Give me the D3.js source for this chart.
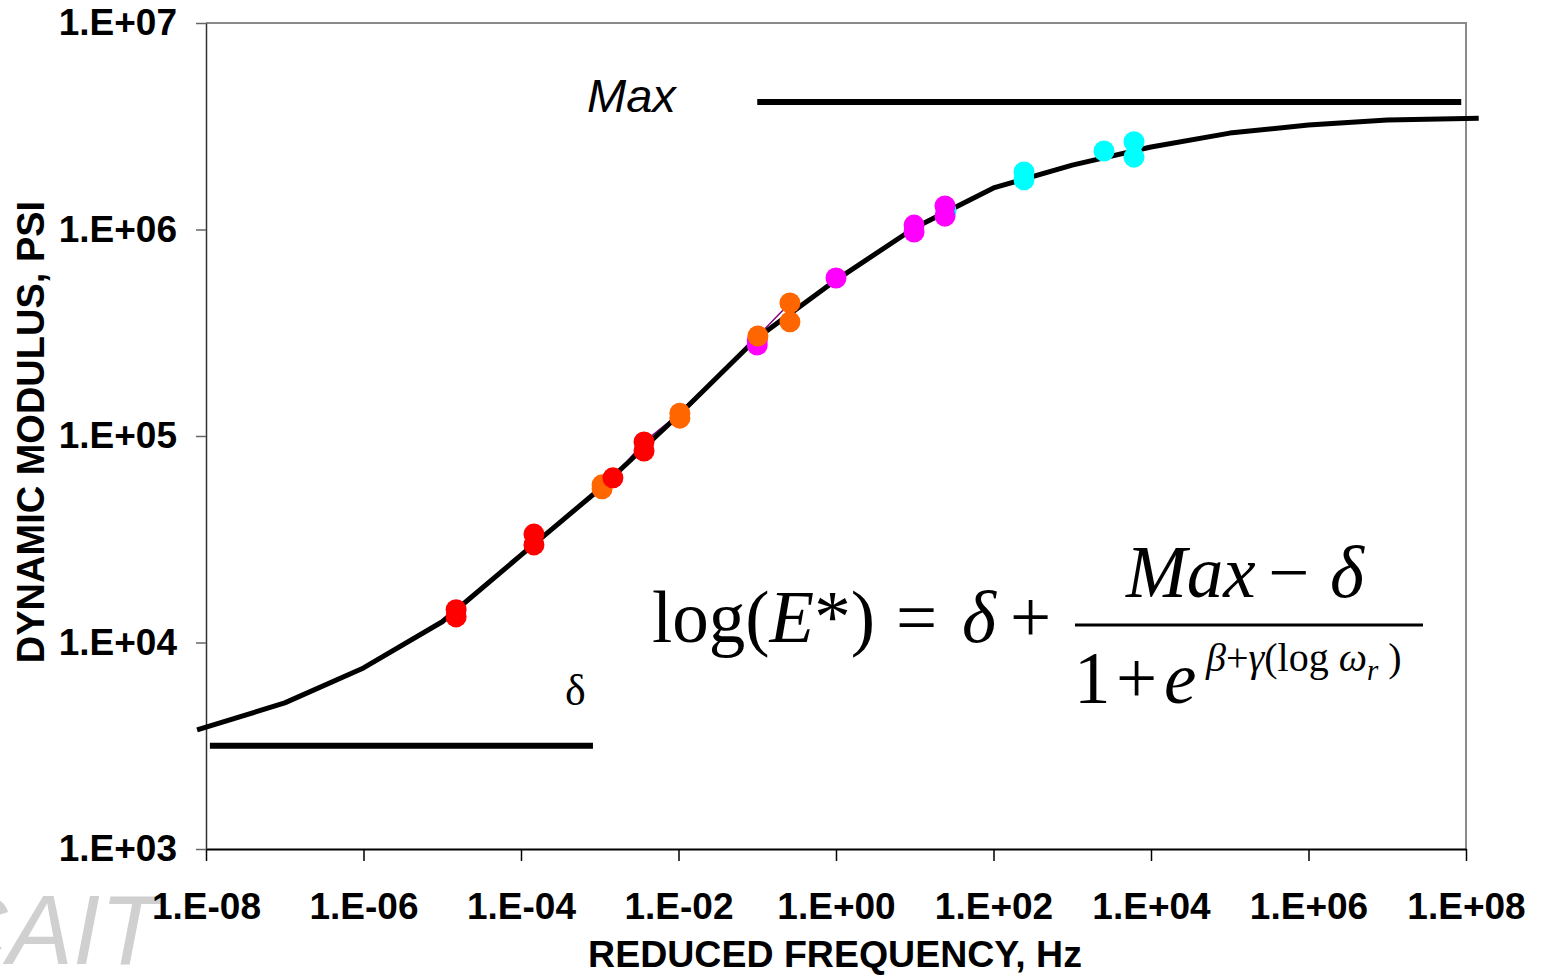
<!DOCTYPE html>
<html>
<head>
<meta charset="utf-8">
<script src="https://cdn.jsdelivr.net/npm/d3@7"></script>
<style>
  body { margin: 0; background: #fff; }
  svg { display: block; }
</style>
</head>
<body>
<svg id="chart"></svg>
<script>
// basic parameters
const width = 1542
const height = 975
const plotLeft = 206, plotRight = 1466, plotTop = 23, plotBottom = 849

// master curve (sigmoid fit)
const curveFreq = [7.7e-9, 1e-7, 1e-6, 1e-5, 1e-4, 1e-3, 1e-2, 1e-1, 1, 10, 100, 1e3, 1e4, 1e5, 1e6, 1e7, 1e8, 1.45e8]
const curveE = [3770, 5100, 7530, 12600, 26500, 55400, 126000, 299000, 569000, 1020000, 1590000, 2050000, 2510000, 2930000, 3210000, 3390000, 3450000, 3460000]

// measured points, one list per temperature
const redFreq = [1.5e-5, 1.5e-5, 1.46e-4, 1.46e-4, 1.47e-3, 3.65e-3, 3.65e-3]
const redE = [14400, 13300, 33500, 29700, 62700, 93600, 84600]
const orangeFreq = [1.07e-3, 1.07e-3, 1.04e-2, 1.04e-2, 0.102, 0.26, 0.26]
const orangeE = [58000, 55500, 129000, 122000, 305000, 441000, 357000]
const magentaFreq = [0.1, 0.1, 1, 9.8, 9.8, 24.2, 24.2]
const magentaE = [276000, 290000, 582000, 1050000, 973000, 1300000, 1160000]
const cyanFreq = [25, 244, 244, 2530, 6080, 6080]
const cyanE = [1230000, 1900000, 1740000, 2400000, 2660000, 2240000]

// thin series line visible beside the curve
const purpleFreq = [1.47e-3, 3.65e-3, 1.04e-2, 0.102, 0.26]
const purpleE = [62700, 93600, 129000, 305000, 441000]

// Max and delta guide lines
const maxFreq = [0.1, 8.7e7]
const maxE = [4140000, 4140000]
const deltaFreq = [1.12e-8, 8.2e-4]
const deltaE = [3160, 3160]

// tick values
const xTicks = [1e-8, 1e-6, 1e-4, 1e-2, 1, 1e2, 1e4, 1e6, 1e8]
const yTicks = [1e3, 1e4, 1e5, 1e6, 1e7]

const zip = (a, b) => a.map((d, i) => [d, b[i]])

var svg = d3.select("#chart")
  .attr("width", width)
  .attr("height", height)
  .style("font-family", "'Liberation Sans', Arial, sans-serif")

svg.append("rect").attr("width", width).attr("height", height).attr("fill", "#fff")

var x = d3.scaleLog().domain([1e-8, 1e8]).range([plotLeft, plotRight])
var y = d3.scaleLog().domain([1e3, 1e7]).range([plotBottom, plotTop])

const fmt = d => {
  const e = Math.round(Math.log10(d))
  return "1.E" + (e < 0 ? "-" : "+") + String(Math.abs(e)).padStart(2, "0")
}

// watermark, partly off the left edge as in the source
svg.append("text")
  .attr("x", 160).attr("y", 964)
  .attr("text-anchor", "end")
  .attr("font-size", 98)
  .attr("font-style", "italic")
  .attr("fill", "#d0d0d0")
  .text("CAIT")

// plot border (top / right are grey)
svg.append("path")
  .attr("d", `M${plotLeft},${plotTop}H${plotRight}V${plotBottom}`)
  .attr("fill", "none")
  .attr("stroke", "#8a8a8a")
  .attr("stroke-width", 2)

// axes
var xAxis = svg.append("g")
  .attr("transform", `translate(0,${plotBottom})`)
  .call(d3.axisBottom(x).tickValues(xTicks).tickFormat(fmt).tickSize(12).tickSizeOuter(0))
xAxis.select(".domain").attr("stroke", "#000").attr("stroke-width", 2)
xAxis.selectAll(".tick line").attr("stroke", "#000").attr("stroke-width", 1.5)
xAxis.selectAll("text")
  .attr("y", 70).attr("dy", 0)
  .attr("font-size", 37).attr("font-weight", "bold")
  .attr("font-family", "'Liberation Sans', Arial, sans-serif")
  .attr("fill", "#000")

var yAxis = svg.append("g")
  .attr("transform", `translate(${plotLeft},0)`)
  .call(d3.axisLeft(y).tickValues(yTicks).tickFormat(fmt).tickSize(10).tickSizeOuter(0))
yAxis.select(".domain").attr("stroke", "#333").attr("stroke-width", 1.5)
yAxis.selectAll(".tick line").attr("stroke", "#666").attr("stroke-width", 1.5)
yAxis.selectAll("text")
  .attr("x", -29)
  .attr("font-size", 37).attr("font-weight", "bold")
  .attr("font-family", "'Liberation Sans', Arial, sans-serif")
  .attr("fill", "#000")

// axis titles
svg.append("text")
  .attr("x", 835).attr("y", 967)
  .attr("text-anchor", "middle")
  .attr("font-size", 37.5).attr("font-weight", "bold")
  .text("REDUCED FREQUENCY, Hz")

svg.append("text")
  .attr("transform", "translate(44,432) rotate(-90)")
  .attr("text-anchor", "middle")
  .attr("font-size", 38).attr("font-weight", "bold")
  .text("DYNAMIC MODULUS, PSI")

var line = d3.line().x(d => x(d[0])).y(d => y(d[1]))

// Max / delta lines
svg.append("path").datum(zip(maxFreq, maxE))
  .attr("d", line).attr("fill", "none").attr("stroke", "#000").attr("stroke-width", 6)
svg.append("path").datum(zip(deltaFreq, deltaE))
  .attr("d", line).attr("fill", "none").attr("stroke", "#000").attr("stroke-width", 6)

svg.append("text")
  .attr("x", 587).attr("y", 112)
  .attr("font-size", 47).attr("font-style", "italic")
  .text("Max")

svg.append("text")
  .attr("x", 565).attr("y", 705)
  .attr("font-family", "'Liberation Serif', 'Times New Roman', serif")
  .attr("font-size", 44)
  .text("δ")

// purple series line and master curve
svg.append("path").datum(zip(purpleFreq, purpleE))
  .attr("d", line).attr("fill", "none").attr("stroke", "#800080").attr("stroke-width", 1.5)
svg.append("path").datum(zip(curveFreq, curveE))
  .attr("d", line).attr("fill", "none").attr("stroke", "#000").attr("stroke-width", 5)
  .attr("stroke-linejoin", "round")

// points: cyan under magenta under orange under red
const series = [
  { f: cyanFreq, e: cyanE, color: "#00ffff" },
  { f: magentaFreq, e: magentaE, color: "#ff00ff" },
  { f: orangeFreq, e: orangeE, color: "#ff6600" },
  { f: redFreq, e: redE, color: "#ff0000" }
]
series.forEach(s => {
  svg.append("g").selectAll("circle")
    .data(zip(s.f, s.e))
    .enter()
    .append("circle")
      .attr("cx", d => x(d[0]))
      .attr("cy", d => y(d[1]))
      .attr("r", 10.5)
      .attr("fill", s.color)
})

// equation
const serif = "'Liberation Serif', 'Times New Roman', serif"
var eq = svg.append("g").attr("font-family", serif).attr("fill", "#000")

var lhs = eq.append("text").attr("x", 652).attr("y", 642).attr("font-size", 73)
lhs.append("tspan").text("log(")
lhs.append("tspan").attr("font-style", "italic").text("E")
lhs.append("tspan").text("*)")
lhs.append("tspan").attr("x", 896).text("=")
lhs.append("tspan").attr("x", 962).attr("font-style", "italic").text("δ")
lhs.append("tspan").attr("x", 1010).text("+")

eq.append("line")
  .attr("x1", 1075).attr("x2", 1423)
  .attr("y1", 625).attr("y2", 625)
  .attr("stroke", "#000").attr("stroke-width", 3)

var num = eq.append("text").attr("y", 597).attr("font-size", 73)
num.append("tspan").attr("x", 1126).attr("font-style", "italic").text("Max")
num.append("tspan").attr("x", 1268).text("−")
num.append("tspan").attr("x", 1330).attr("font-style", "italic").text("δ")

var den = eq.append("text").attr("y", 703).attr("font-size", 73)
den.append("tspan").attr("x", 1074).text("1")
den.append("tspan").attr("x", 1116).text("+")
den.append("tspan").attr("x", 1164).attr("font-style", "italic").text("e")
var sup = eq.append("text").attr("y", 671).attr("font-size", 40)
sup.append("tspan").attr("x", 1206).attr("font-style", "italic").text("β")
sup.append("tspan").text("+")
sup.append("tspan").attr("font-style", "italic").text("γ")
sup.append("tspan").text("(log ")
sup.append("tspan").attr("font-style", "italic").text("ω")
sup.append("tspan").attr("font-size", 29).attr("dy", 9).attr("font-style", "italic").text("r")
sup.append("tspan").attr("dy", -9).text(" )")
</script>
</body>
</html>
